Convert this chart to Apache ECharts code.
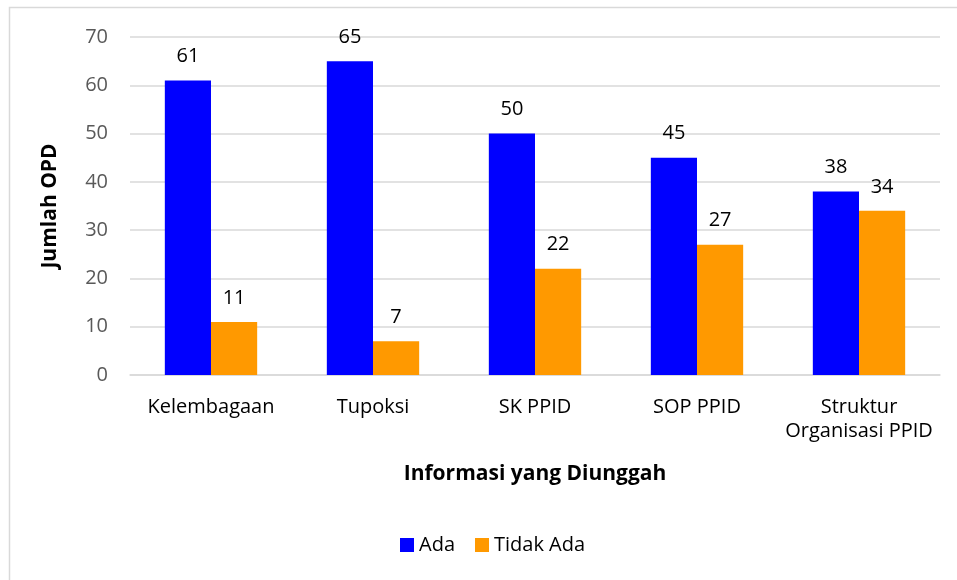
<!DOCTYPE html>
<html>
<head>
<meta charset="utf-8">
<script src="https://cdn.jsdelivr.net/npm/echarts@6/dist/echarts.min.js"></script>
<style>
  html, body { margin: 0; padding: 0; background: #fff; }
  #chart { width: 957px; height: 580px; }
</style>
</head>
<body>
<div id="chart"></div>
<script>
var categories = ['Kelembagaan', 'Tupoksi', 'SK PPID', 'SOP PPID', 'Struktur\nOrganisasi PPID'];
var ada = [61, 65, 50, 45, 38];
var tidakAda = [11, 7, 22, 27, 34];

var font = '"Open Sans", "Noto Sans", sans-serif';

var myChart = echarts.init(document.getElementById('chart'));
var option = {
    animation: false,
    textStyle: { fontFamily: font },
    graphic: [
        {
            type: 'rect',
            shape: { x: 9.5, y: 7.5, width: 1000, height: 700 },
            style: { fill: null, stroke: '#d9d9d9', lineWidth: 1.5 },
            silent: true
        }
    ],
    grid: { left: 130, right: 17, top: 37, bottom: 205 },
    legend: {
        data: ['Ada', 'Tidak Ada'],
        bottom: 20,
        left: 395,
        itemWidth: 14,
        itemHeight: 14,
        itemGap: 20,
        icon: 'rect',
        textStyle: { fontFamily: font, fontSize: 20, color: '#000' }
    },
    xAxis: {
        type: 'category',
        data: categories,
        name: 'Informasi yang Diunggah',
        nameLocation: 'middle',
        nameGap: 89,
        nameTextStyle: { fontFamily: font, fontSize: 21, fontWeight: 'bold', color: '#000' },
        axisLine: { lineStyle: { color: '#d9d9d9', width: 1.5 } },
        axisTick: { show: false },
        axisLabel: { fontFamily: font, fontSize: 20, color: '#000', margin: 20, lineHeight: 24, interval: 0 }
    },
    yAxis: {
        type: 'value',
        min: 0,
        max: 70,
        interval: 10,
        name: 'Jumlah OPD',
        nameLocation: 'middle',
        nameGap: 69,
        nameTextStyle: { fontFamily: font, fontSize: 21, fontWeight: 'bold', color: '#000' },
        axisLine: { show: false },
        axisTick: { show: false },
        splitLine: { lineStyle: { color: '#d9d9d9', width: 1.5 } },
        axisLabel: { fontFamily: font, fontSize: 20, color: '#595959', margin: 22 }
    },
    series: [
        {
            name: 'Ada',
            type: 'bar',
            data: ada,
            barGap: '0%',
            barCategoryGap: '43%',
            itemStyle: { color: '#0000ff' },
            label: { show: true, position: 'top', distance: 14, fontFamily: font, fontSize: 20, color: '#000' }
        },
        {
            name: 'Tidak Ada',
            type: 'bar',
            data: tidakAda,
            itemStyle: { color: '#ff9900' },
            label: { show: true, position: 'top', distance: 14, fontFamily: font, fontSize: 20, color: '#000' }
        }
    ]
};
myChart.setOption(option);
</script>
</body>
</html>
